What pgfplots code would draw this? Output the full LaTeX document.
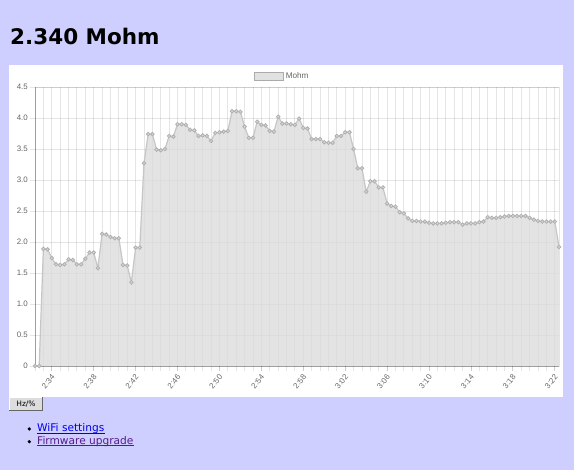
\documentclass[border=0pt]{standalone}
\usepackage{fontspec}
\usepackage{pgfplots}
\usepackage{pgfplotstable}
\pgfplotsset{compat=1.18}
\newfontfamily\djsans{DejaVu Sans}
\newfontfamily\arial{Liberation Sans}
\definecolor{pagebg}{RGB}{206,206,255}
\definecolor{ticktext}{RGB}{102,102,102}
\definecolor{areafill}{RGB}{220,220,220}
\definecolor{linecol}{RGB}{198,198,198}
\definecolor{markfill}{RGB}{214,214,214}
\definecolor{markdraw}{RGB}{176,176,176}
\definecolor{btnfill}{RGB}{221,221,221}
\definecolor{linkblue}{RGB}{0,0,238}
\definecolor{linkvisited}{RGB}{85,26,139}

% one reading every 24 s, index 0..125
\pgfplotstableread{
i v
0 0
1 0
2 1.89
3 1.88
4 1.74
5 1.64
6 1.63
7 1.64
8 1.72
9 1.71
10 1.64
11 1.64
12 1.73
13 1.83
14 1.83
15 1.58
16 2.13
17 2.12
18 2.08
19 2.06
20 2.06
21 1.63
22 1.62
23 1.35
24 1.91
25 1.91
26 3.27
27 3.74
28 3.74
29 3.49
30 3.48
31 3.50
32 3.71
33 3.70
34 3.90
35 3.90
36 3.89
37 3.81
38 3.80
39 3.71
40 3.72
41 3.71
42 3.63
43 3.76
44 3.77
45 3.78
46 3.79
47 4.11
48 4.11
49 4.10
50 3.86
51 3.68
52 3.68
53 3.94
54 3.89
55 3.88
56 3.79
57 3.78
58 4.02
59 3.91
60 3.91
61 3.90
62 3.89
63 3.99
64 3.84
65 3.83
66 3.66
67 3.66
68 3.66
69 3.61
70 3.60
71 3.60
72 3.71
73 3.71
74 3.77
75 3.77
76 3.50
77 3.19
78 3.19
79 2.81
80 2.98
81 2.98
82 2.88
83 2.88
84 2.62
85 2.58
86 2.57
87 2.48
88 2.46
89 2.38
90 2.34
91 2.34
92 2.33
93 2.33
94 2.31
95 2.30
96 2.30
97 2.30
98 2.31
99 2.32
100 2.32
101 2.32
102 2.28
103 2.30
104 2.30
105 2.30
106 2.32
107 2.33
108 2.40
109 2.39
110 2.39
111 2.40
112 2.41
113 2.42
114 2.42
115 2.42
116 2.42
117 2.42
118 2.39
119 2.36
120 2.34
121 2.33
122 2.33
123 2.33
124 2.33
125 1.92
}\mohmdata

\begin{document}
\begin{tikzpicture}
\fill[pagebg] (0pt,0pt) rectangle (574pt,470pt);
\fill[white] (9pt,73pt) rectangle (563pt,405pt);
\node[anchor=base west, inner sep=0pt, font=\djsans\bfseries\fontsize{21.5}{24}\selectfont] at (10pt,425pt) {2.340 Mohm};

\begin{axis}[
  at={(35pt,104pt)}, anchor=south west,
  scale only axis, width=524pt, height=279pt,
  xmin=0, xmax=125, ymin=0, ymax=4.5,
  clip=false,
  xtick={4,14,24,34,44,54,64,74,84,94,104,114,124},
  xticklabels={2:34,2:38,2:42,2:46,2:50,2:54,2:58,3:02,3:06,3:10,3:14,3:18,3:22},
  minor xtick={0,2,...,124},
  ytick={0,0.5,1,1.5,2,2.5,3,3.5,4,4.5},
  yticklabels={0,0.5,1.0,1.5,2.0,2.5,3.0,3.5,4.0,4.5},
  xmajorgrids=false, xminorgrids=true, ymajorgrids=true,
  major grid style={black, opacity=0.1, line width=0.9pt},
  minor grid style={black, opacity=0.1, line width=0.9pt},
  axis line style={black, opacity=0.1, line width=0.9pt},
  xtick pos=left, ytick pos=left,
  tick align=outside,
  major tick length=5pt, minor tick length=5pt,
  tick style={black, opacity=0.1, line width=0.9pt},
  tick label style={font=\arial\fontsize{7.9}{9}\selectfont, text=ticktext},
  xticklabel style={rotate=50, anchor=north east, inner sep=1pt, xshift=-1.5pt},
  yticklabel style={inner sep=2pt},
  legend style={at={(0.4179,1.0376)}, anchor=west, draw=none, fill=none,
    inner sep=0pt, outer sep=0pt,
    font=\arial\fontsize{8.2}{9}\selectfont, text=ticktext,
    /tikz/every even column/.append style={column sep=4pt}},
]
\draw[black, opacity=0.22, line width=0.9pt] (rel axis cs:0,1) -- (rel axis cs:0,0) -- (rel axis cs:1,0);
\addplot[draw=none, fill=areafill, fill opacity=0.8, forget plot] table[x=i, y=v] {\mohmdata} \closedcycle;
\addplot[draw=linecol, line width=1.2pt, mark=*, mark size=1.8pt,
  mark options={fill=markfill, draw=markdraw, line width=0.8pt},
  legend image code/.code={\draw[fill=areafill!85, draw=markfill!80!black, line width=0.8pt] (0pt,-4.2pt) rectangle (29pt,4.2pt);}]
  table[x=i, y=v] {\mohmdata};
\addlegendentry{Mohm}
\end{axis}

% button
\fill[btnfill] (9pt,59pt) rectangle (43pt,73pt);
\draw[white, line width=0.8pt] (9.4pt,59pt) -- (9.4pt,72.6pt) -- (43pt,72.6pt);
\draw[black!60, line width=0.8pt] (9pt,59.4pt) -- (42.6pt,59.4pt) -- (42.6pt,73pt);
\node[inner sep=0pt, font=\djsans\fontsize{7.5}{9}\selectfont] at (26pt,66pt) {Hz/\%};

% links
\fill (29.3pt,41pt) circle (1.8pt);
\node[anchor=base west, inner sep=0pt, text=linkblue, font=\djsans\fontsize{10.6}{12}\selectfont] (l1) at (37pt,38pt) {WiFi settings};
\draw[linkblue, line width=0.7pt] ([yshift=-1.4pt]l1.base west) -- ([yshift=-1.4pt]l1.base east);
\fill (29.3pt,28.3pt) circle (1.8pt);
\node[anchor=base west, inner sep=0pt, text=linkvisited, font=\djsans\fontsize{10.6}{12}\selectfont] (l2) at (37pt,25.7pt) {Firmware upgrade};
\draw[linkvisited, line width=0.7pt] ([yshift=-1.4pt]l2.base west) -- ([yshift=-1.4pt]l2.base east);
\end{tikzpicture}
\end{document}
